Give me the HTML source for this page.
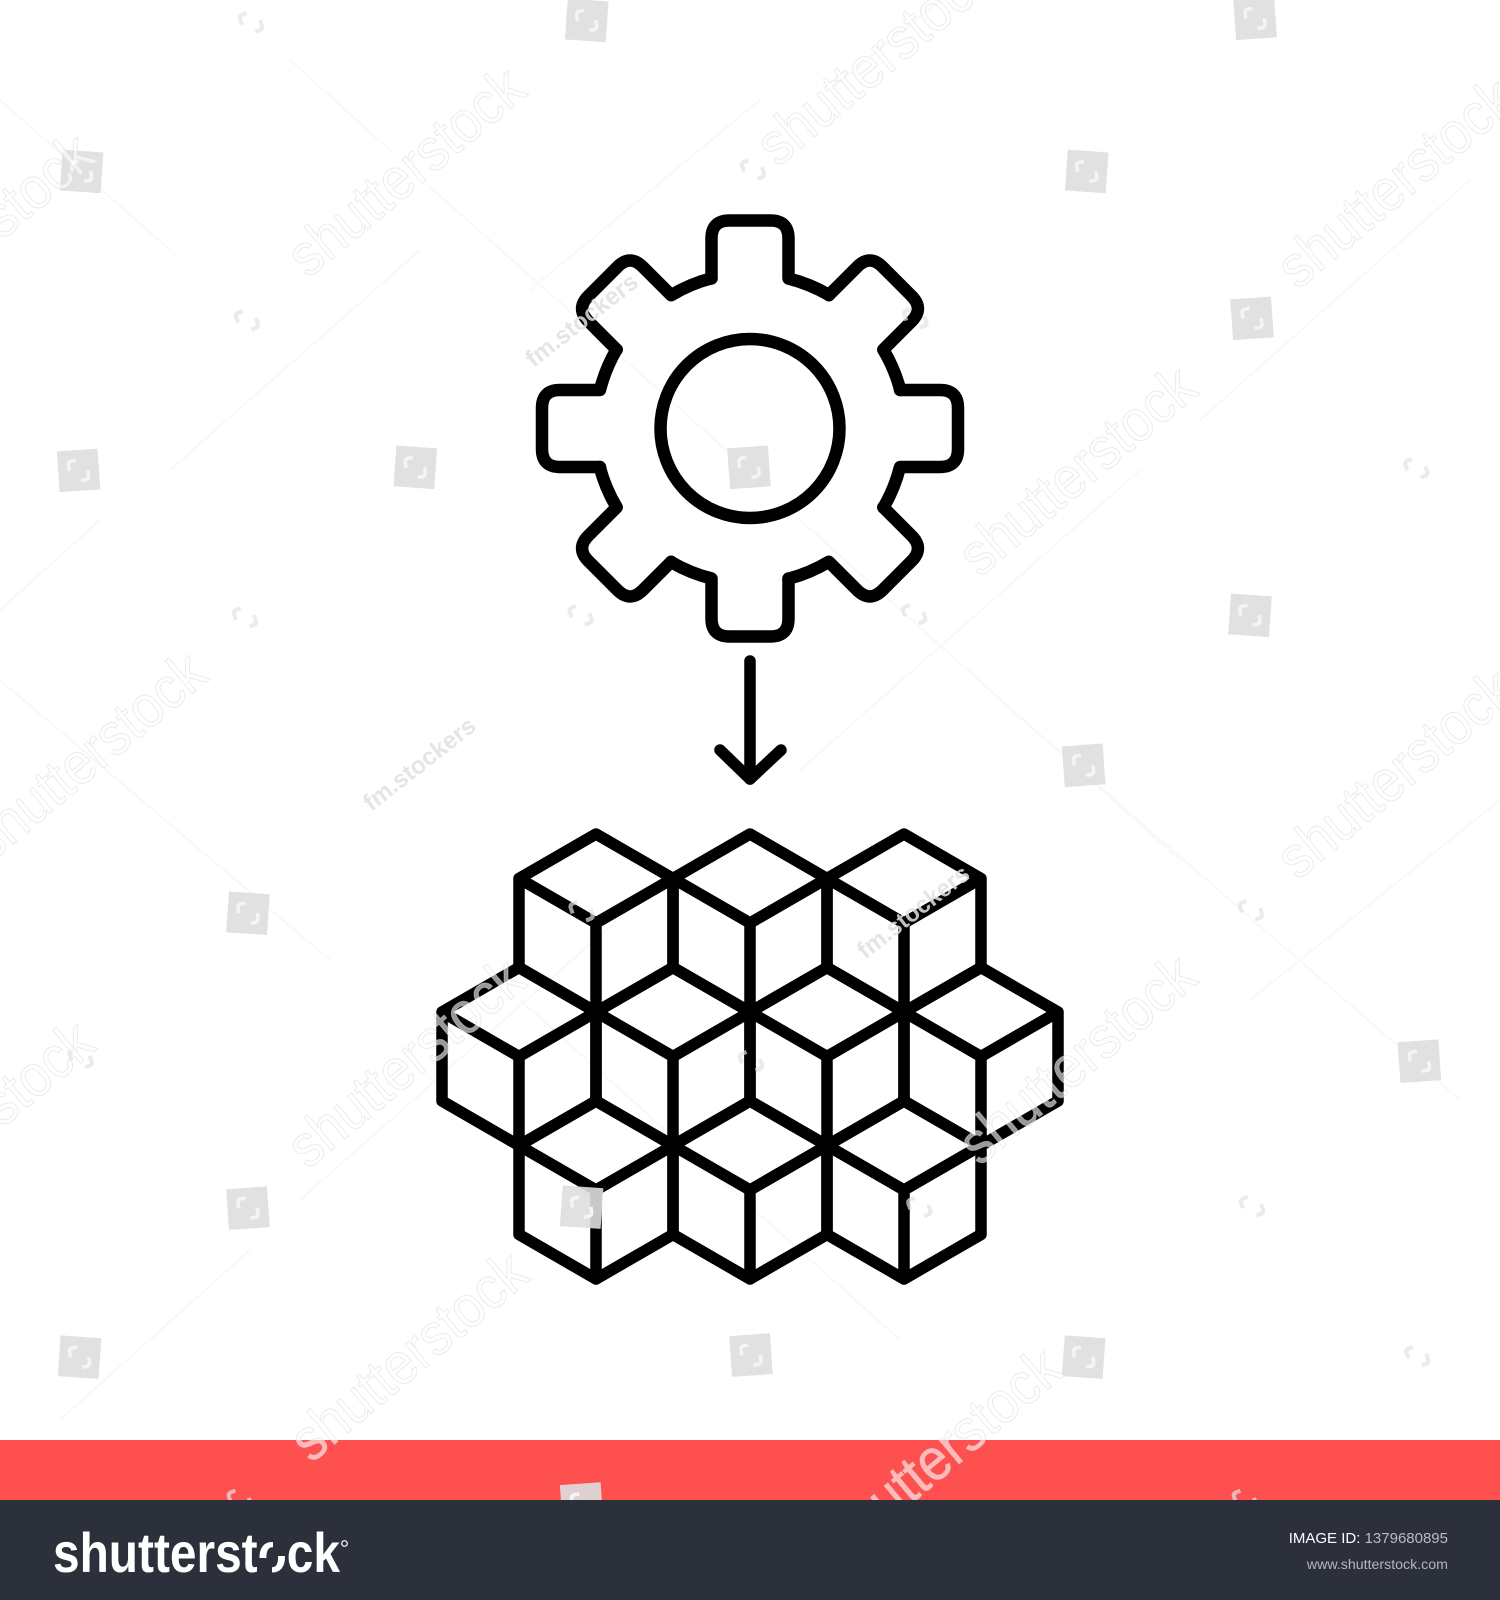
<!DOCTYPE html>
<html>
<head>
<meta charset="utf-8">
<style>
html,body{margin:0;padding:0;background:#fff;width:1500px;height:1600px;overflow:hidden}
svg{display:block}
text{font-family:"Liberation Sans",sans-serif}
</style>
</head>
<body>
<svg id="root" width="1500" height="1600" viewBox="0 0 1500 1600" xmlns="http://www.w3.org/2000/svg">
  <defs>
    <path id="tooth" d="M-38.5 -150 V-190 Q-38.5 -208 -20.5 -208 H20.5 Q38.5 -208 38.5 -190 V-150 A155 155 0 0 1 79 -133.5"/>
    <path id="cube" d="M0 0 L77 44.5 V133.5 L0 178 L-77 133.5 V44.5 Z M-77 44.5 L0 89 L77 44.5 M0 89 V178"/>
    <g id="mini-logo" fill="none" stroke-linecap="butt">
      <path d="M-1 -10 H-5 Q-9 -10 -9 -6 V-1"/>
      <path d="M1 10 H5 Q9 10 9 6 V1"/>
    </g>
  </defs>

  <rect x="0" y="0" width="1500" height="1440" fill="#ffffff"/>
  <g id="lattice" stroke="#f8f8f8" stroke-width="2"></g>

  <g fill="none" stroke="#000" stroke-width="12.5" stroke-linejoin="round" stroke-linecap="round" transform="translate(750 428.500)">
    <use href="#tooth" transform="rotate(0)"/>
    <use href="#tooth" transform="rotate(45)"/>
    <use href="#tooth" transform="rotate(90)"/>
    <use href="#tooth" transform="rotate(135)"/>
    <use href="#tooth" transform="rotate(180)"/>
    <use href="#tooth" transform="rotate(225)"/>
    <use href="#tooth" transform="rotate(270)"/>
    <use href="#tooth" transform="rotate(315)"/>
    <circle cx="0" cy="0" r="89.500"/>
  </g>

  <g fill="none" stroke="#000" stroke-width="11.5" stroke-linejoin="round" stroke-linecap="round">
    <path d="M750 661 V779"/>
    <path d="M720 750 L750 779 L781 750"/>
  </g>

  <g fill="none" stroke="#000" stroke-width="11.5" stroke-linejoin="round" stroke-linecap="round">
    <use href="#cube" x="596" y="834"/>
    <use href="#cube" x="750" y="834"/>
    <use href="#cube" x="904" y="834"/>
    <use href="#cube" x="519" y="967.5"/>
    <use href="#cube" x="673" y="967.5"/>
    <use href="#cube" x="827" y="967.5"/>
    <use href="#cube" x="981" y="967.5"/>
    <use href="#cube" x="596" y="1101"/>
    <use href="#cube" x="750" y="1101"/>
    <use href="#cube" x="904" y="1101"/>
  </g>

  <rect x="0" y="1440" width="1500" height="60" fill="#ff5050"/>

  <g id="watermarks" transform="scale(1.0204)"></g>

  <rect x="0" y="1500" width="1500" height="100" fill="#2b303b"/>

  <g>
    <text x="53" y="1572" font-size="56" font-weight="700" fill="#ffffff" textLength="287" lengthAdjust="spacingAndGlyphs">shutterstock</text>
    <rect x="273" y="1540" width="13" height="16" fill="#2b303b"/>
    <rect x="259" y="1558" width="13" height="16" fill="#2b303b"/>
    <circle cx="344.500" cy="1543.500" r="2.800" fill="none" stroke="#fff" stroke-width="1.200"/>
  </g>
  <text x="1448" y="1543" text-anchor="end" font-size="15" fill="#b9bcc1"><tspan fill="#ffffff" font-weight="400">IMAGE ID:</tspan> 1379680895</text>
  <text x="1448" y="1569" text-anchor="end" font-size="14.200" fill="#b4b7bc">www.shutterstock.com</text>
</svg>
<script>
var NS = 'http://www.w3.org/2000/svg';
var wm = document.getElementById('watermarks');
var lattice = document.getElementById('lattice');
var wordmarks = [[410,167],[870,58],[1380,178],[1068,460],[98,740],[1380,757],[410,1040],[1068,1037],[413,1328],[936,1422],[-12,232],[-12,1102]];
var fmMarks = [[575,312],[416,747],[900,892]];
var squares = [[80,168],[77,461],[407,458],[734,458],[1065,168],[1227,312],[1225,603],[1062,750],[243,895],[243,1184],[78,1330],[736,1328],[1062,1330],[1391,1040],[575,20],[1230,18],[570,1183],[570,1474]];
var minis = [[246,22],[738,166],[242,314],[1388,459],[240,605],[569,603],[896,602],[1226,892],[79,1037],[736,1040],[1227,1182],[901,1183],[1389,1329],[570,893],[897,312],[235,1470],[1220,1470]];
var latticeLines = [[290,60,393,153],[430,187,760,480],[800,520,1180,860],[0,100,170,250],[520,1000,900,1340],[1470,180,1200,420],[1140,470,800,770],[640,900,300,1200],[250,1250,60,1420],[760,100,530,290],[1000,700,1460,1100],[0,680,330,960],[1500,800,1250,1000],[420,250,170,470],[100,520,0,610],[940,0,830,90]];

latticeLines.forEach(function (l) {
  var ln = document.createElementNS(NS, 'line');
  ln.setAttribute('x1', l[0]);
  ln.setAttribute('y1', l[1]);
  ln.setAttribute('x2', l[2]);
  ln.setAttribute('y2', l[3]);
  
  
  lattice.appendChild(ln);
});

squares.forEach(function (s, i) {
  var r = document.createElementNS(NS, 'rect');
  r.setAttribute('x', s[0] - 20);
  r.setAttribute('y', s[1] - 20);
  r.setAttribute('width', 40);
  r.setAttribute('height', 40);
  r.setAttribute('fill', '#dedede');
  r.setAttribute('fill-opacity', '0.9');
  r.setAttribute('transform', 'rotate(' + ((i % 2 ? -4 : 4)) + ' ' + s[0] + ' ' + s[1] + ')');
  
  
  wm.appendChild(r);
  var u = document.createElementNS(NS, 'use');
  u.setAttribute('href', '#mini-logo');
  u.setAttribute('transform', 'translate(' + s[0] + ' ' + s[1] + ') rotate(-8)');
  u.setAttribute('stroke', '#f4f4f4');
  u.setAttribute('stroke-width', '3.5');
  wm.appendChild(u);
});

minis.forEach(function (s) {
  var u = document.createElementNS(NS, 'use');
  u.setAttribute('href', '#mini-logo');
  u.setAttribute('transform', 'translate(' + s[0] + ' ' + s[1] + ') rotate(-20)');
  u.setAttribute('stroke', '#e2e2e2');
  u.setAttribute('stroke-width', '4');
  u.setAttribute('stroke-opacity', '0.7');
  wm.appendChild(u);
});

wordmarks.forEach(function (s) {
  var t = document.createElementNS(NS, 'text');
  t.textContent = 'shutterstock';
  t.setAttribute('x', 0);
  t.setAttribute('y', 0);
  t.setAttribute('text-anchor', 'middle');
  t.setAttribute('font-size', '58');
  t.setAttribute('textLength', '282');
  t.setAttribute('lengthAdjust', 'spacingAndGlyphs');
  t.setAttribute('fill', 'rgba(255,255,255,0.6)');
  t.setAttribute('stroke', 'rgba(215,215,215,0.5)');
  t.setAttribute('stroke-width', '1');
  t.setAttribute('transform', 'translate(' + s[0] + ' ' + (s[1] + 16) + ') rotate(-40)');
  
  
  wm.appendChild(t);
});

fmMarks.forEach(function (s) {
  var t = document.createElementNS(NS, 'text');
  t.textContent = 'fm.stockers';
  t.setAttribute('x', 0);
  t.setAttribute('y', 0);
  t.setAttribute('text-anchor', 'middle');
  t.setAttribute('font-size', '24');
  t.setAttribute('font-weight', '700');
  t.setAttribute('textLength', '132');
  t.setAttribute('lengthAdjust', 'spacingAndGlyphs');
  t.setAttribute('fill', 'rgba(225,225,225,0.85)');
  t.setAttribute('transform', 'translate(' + s[0] + ' ' + (s[1] + 8) + ') rotate(-38)');
  
  
  wm.appendChild(t);
});
</script>
</body>
</html>
